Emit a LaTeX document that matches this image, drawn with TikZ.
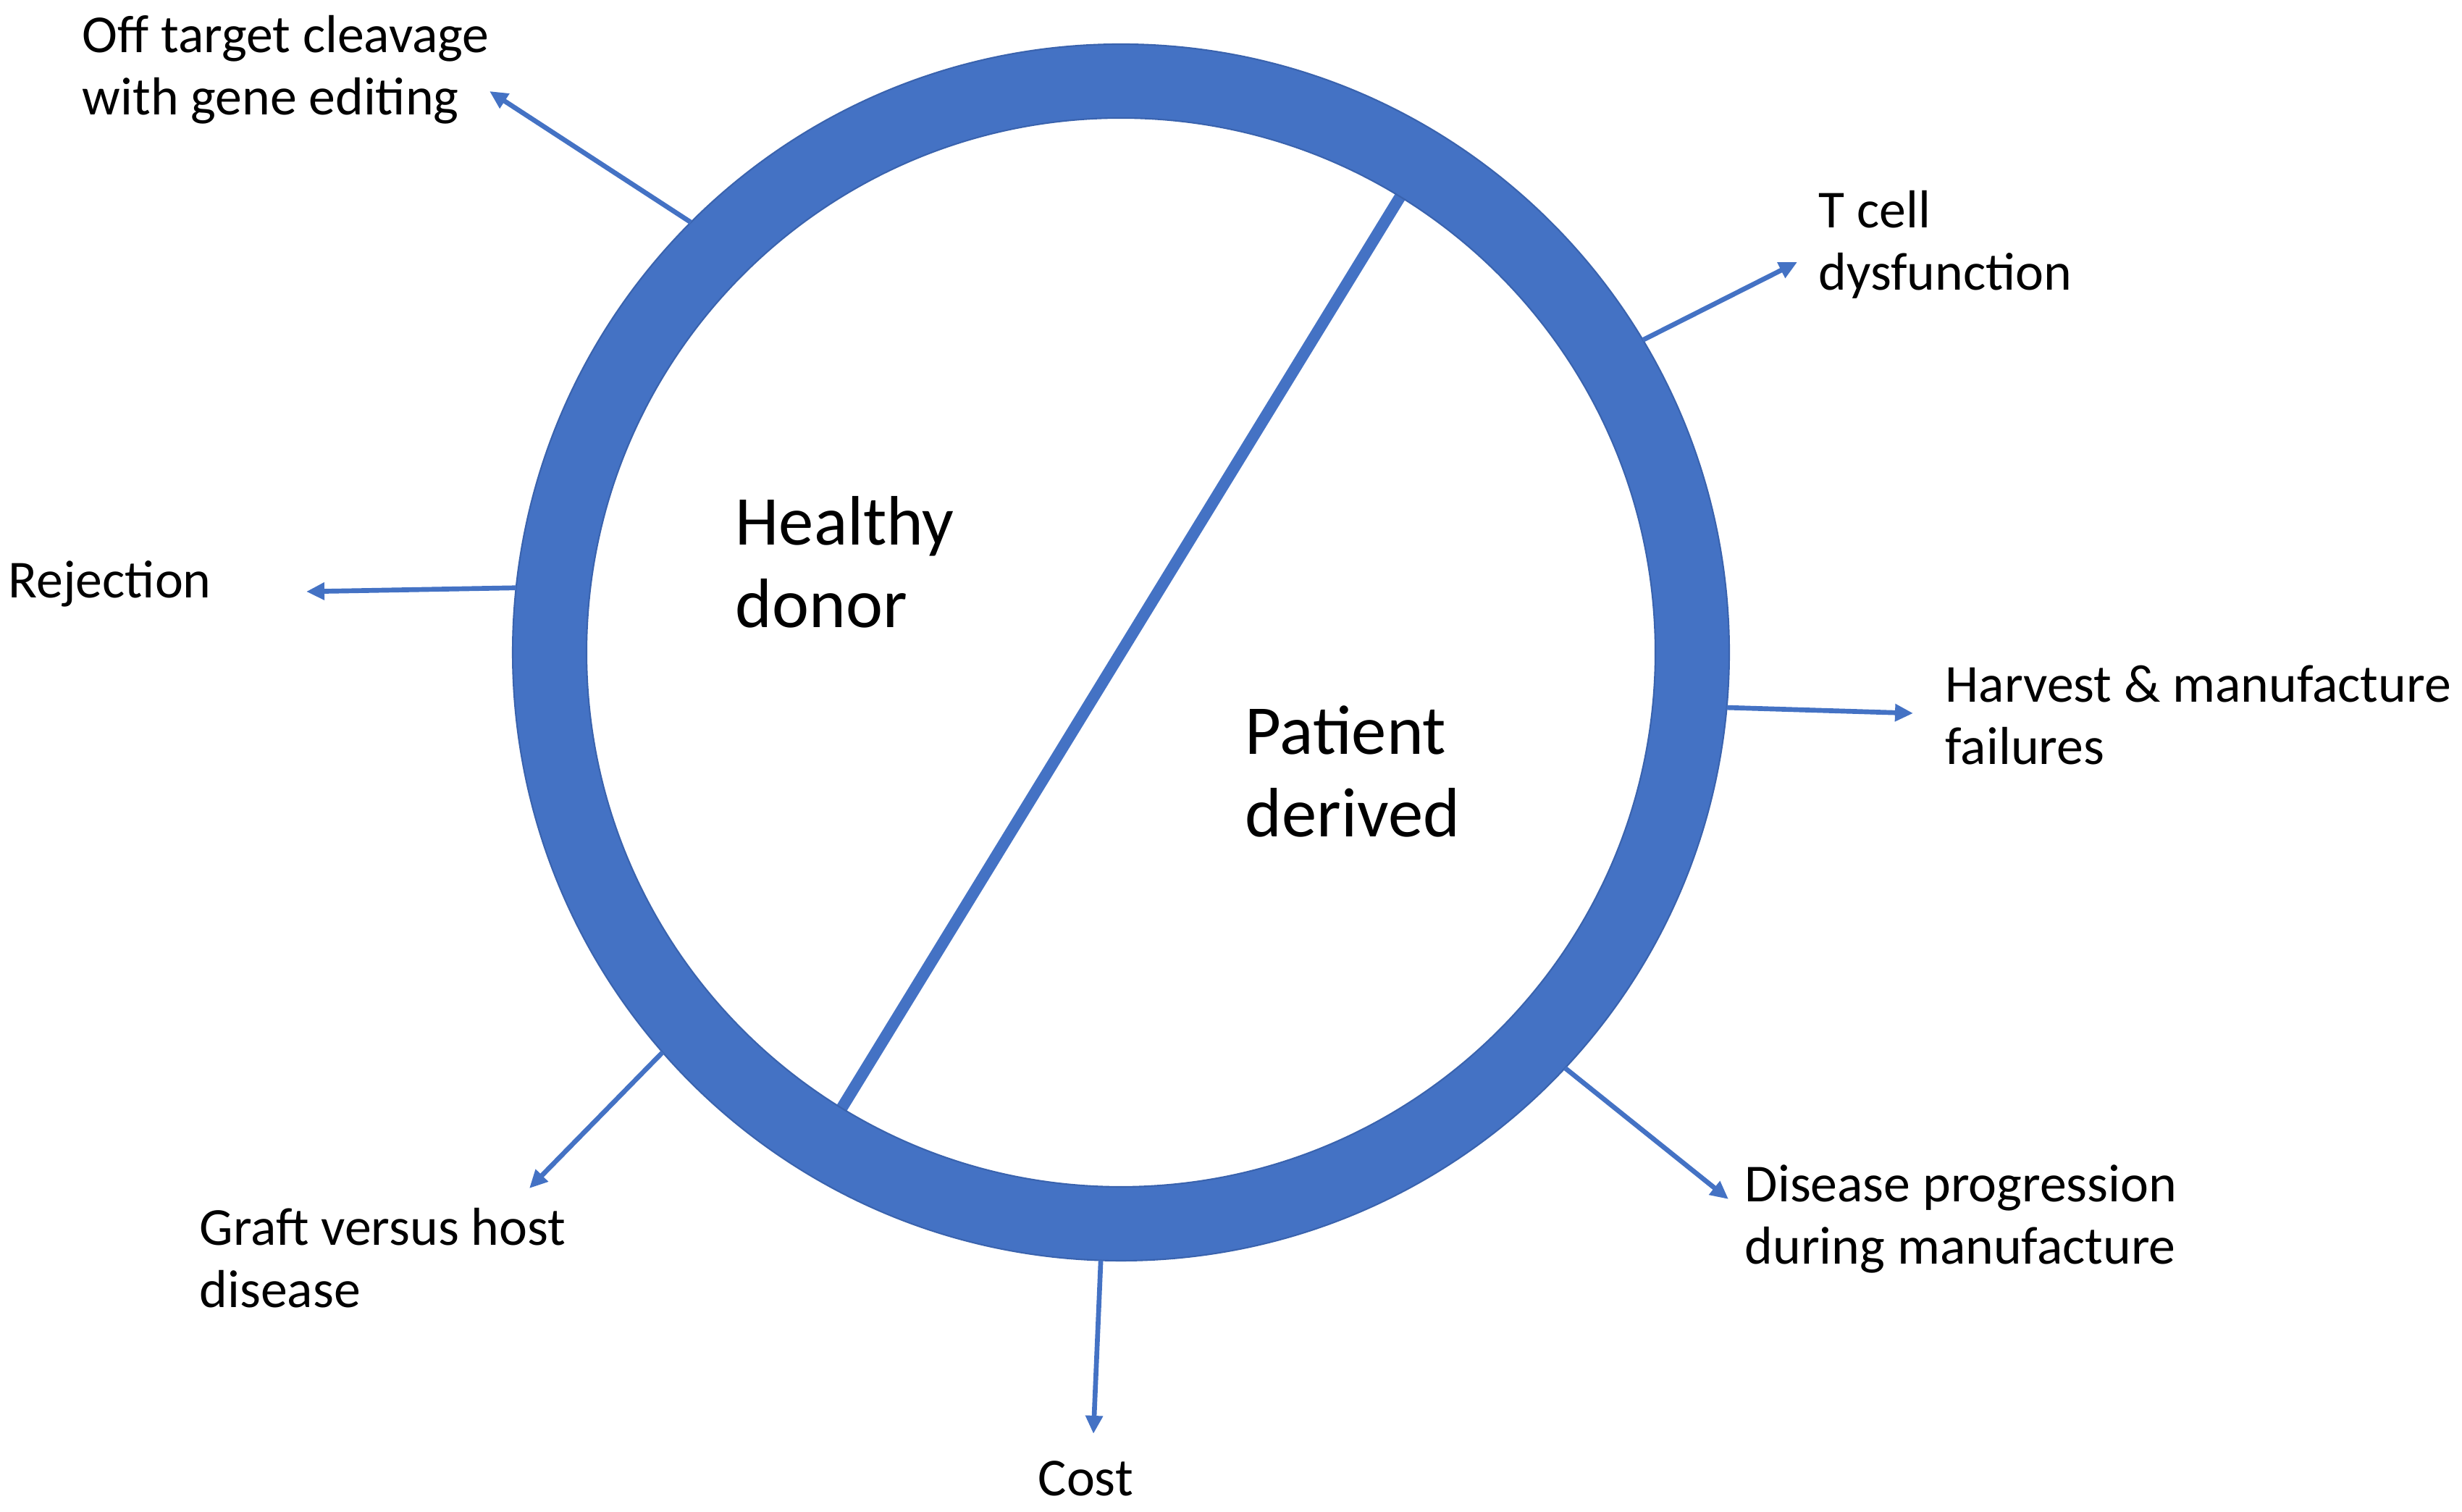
\documentclass[tikz,border=0pt]{standalone}
\usepackage{fontspec}
\setmainfont{Carlito}
\usetikzlibrary{arrows.meta}
\definecolor{ofblue}{HTML}{4472C4}
\definecolor{ofedge}{HTML}{3A63AE}
\begin{document}
\begin{tikzpicture}[
  lbl/.style={anchor=base west, inner sep=0pt, align=left, font=\fontsize{21}{24.7}\selectfont},
  big/.style={anchor=base west, inner sep=0pt, align=left, font=\fontsize{27.5}{32.7}\selectfont},
  arr/.style={draw=ofblue, line width=1.9pt, -{Triangle[length=0.25cm,width=0.23cm]}},
  ringstyle/.style={fill=ofblue, even odd rule, draw=ofedge, line width=0.6pt},
  divider/.style={draw=ofblue, line width=0.16cm},
]
\useasboundingbox (0,0) rectangle (34,20.88);
\coordinate (c) at (15.48,11.87);
% divider
\coordinate (d1) at ([shift={(238.5:7.6)}]c);
\coordinate (d2) at ([shift={(58.5:7.6)}]c);
\draw[divider] (d1) -- (d2);
% ring
\path[ringstyle] (c) circle[radius=8.40] (c) circle[radius=7.38];
% inner labels (base = last line)
\node[big] (hd) at (10.15,12.21) {Healthy\\donor};
\node[big] (pd) at (17.19,9.32) {Patient\\derived};
% outer labels (base = last line)
\node[lbl] (off) at (1.13,19.29) {Off target cleavage\\with gene editing};
\node[lbl] (tc) at (25.11,16.87) {T cell\\dysfunction};
\node[lbl] (rej) at (0.11,12.62) {Rejection};
\node[lbl] (hm) at (26.86,10.32) {Harvest \& manufacture\\failures};
\node[lbl] (dp) at (24.09,3.42) {Disease progression\\during manufacture};
\node[lbl] (gv) at (2.75,2.82) {Graft versus host\\disease};
\node[lbl] (cost) at (14.33,0.22) {Cost};
% arrow start points on ring
\coordinate (s1) at ([shift={(135.0:8.40)}]c);
\coordinate (s2) at ([shift={(30.9:8.40)}]c);
\coordinate (s3) at ([shift={(173.9:8.40)}]c);
\coordinate (s4) at ([shift={(-5.2:8.40)}]c);
\coordinate (s5) at ([shift={(-43.1:8.40)}]c);
\coordinate (s6) at ([shift={(221.1:8.40)}]c);
\coordinate (s7) at ([shift={(268.1:8.40)}]c);
% arrow tips
\coordinate (e1) at (6.76,19.62);
\coordinate (e2) at (24.82,17.26);
\coordinate (e3) at (4.23,12.71);
\coordinate (e4) at (26.42,11.03);
\coordinate (e5) at (23.87,4.32);
\coordinate (e6) at (7.31,4.47);
\coordinate (e7) at (15.10,1.08);
\draw[arr] (s1) -- (e1);
\draw[arr] (s2) -- (e2);
\draw[arr] (s3) -- (e3);
\draw[arr] (s4) -- (e4);
\draw[arr] (s5) -- (e5);
\draw[arr] (s6) -- (e6);
\draw[arr] (s7) -- (e7);
\end{tikzpicture}
\end{document}
